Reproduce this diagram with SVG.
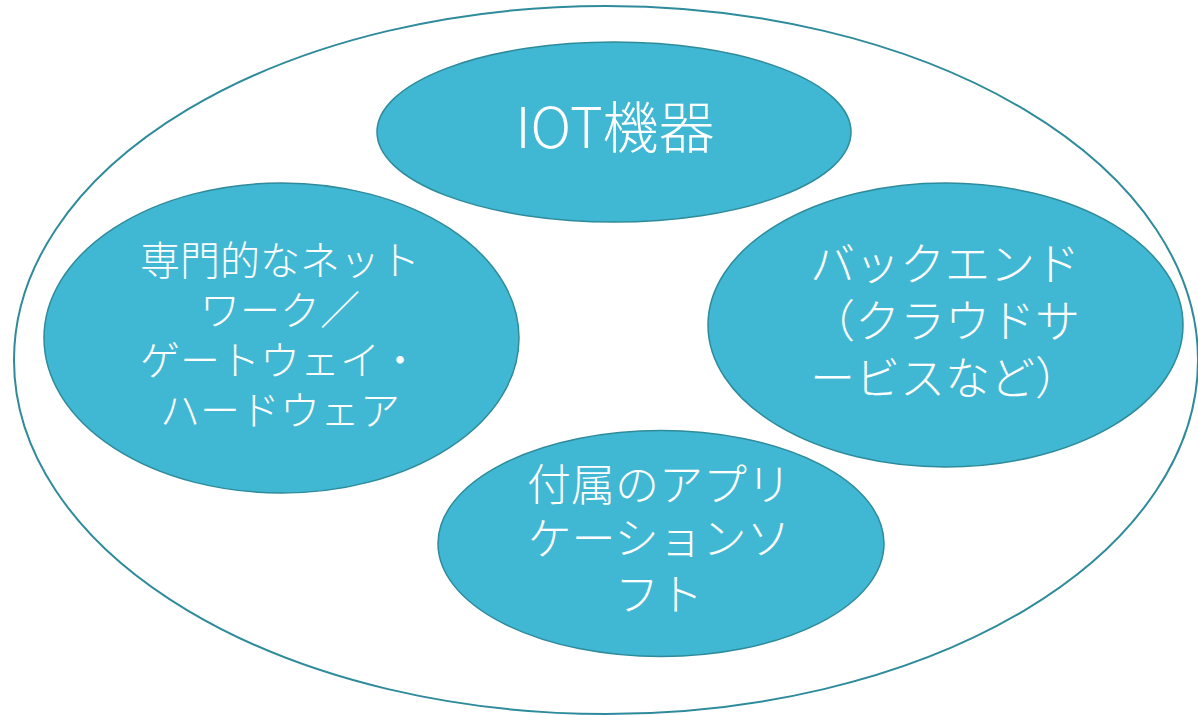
<svg xmlns="http://www.w3.org/2000/svg" width="1198" height="715" viewBox="0 0 1198 715">
<style>
.outer{fill:none;stroke:#2E8B9B;stroke-width:2}
.node{fill:#41B8D3;stroke:#2E8B9B;stroke-width:1.5}
.t{fill:#FFFFFF;font-family:"Noto Sans CJK JP","Noto Sans",sans-serif;font-weight:300;text-anchor:middle}
</style>
<rect width="1198" height="715" fill="#FFFFFF"/>
<g id="outer"><ellipse class="outer" cx="606" cy="360" rx="592" ry="354"/></g>
<g id="connectors"></g>
<g id="iot">
<ellipse class="node" cx="614" cy="132" rx="237" ry="90"/>
<text class="t" x="615" y="148" font-size="56">IOT機器</text>
</g>
<g id="network">
<ellipse class="node" cx="281.5" cy="338" rx="237.5" ry="155"/>
<text class="t" font-size="40"><tspan x="280" y="275">専門的なネット</tspan><tspan x="280" y="325">ワーク／</tspan><tspan x="280" y="375">ゲートウェイ・</tspan><tspan x="280" y="425">ハードウェア</tspan></text>
</g>
<g id="backend">
<ellipse class="node" cx="945.5" cy="325" rx="237.5" ry="142"/>
<text class="t" font-size="45"><tspan x="945" y="281">バックエンド</tspan><tspan x="945" y="338">（クラウドサ</tspan><tspan x="945" y="395">ービスなど）</tspan></text>
</g>
<g id="app">
<ellipse class="node" cx="661" cy="543.5" rx="223" ry="113"/>
<text class="t" font-size="44"><tspan x="659" y="501">付属のアプリ</tspan><tspan x="659" y="555">ケーションソ</tspan><tspan x="659" y="611">フト</tspan></text>
</g>
</svg>
